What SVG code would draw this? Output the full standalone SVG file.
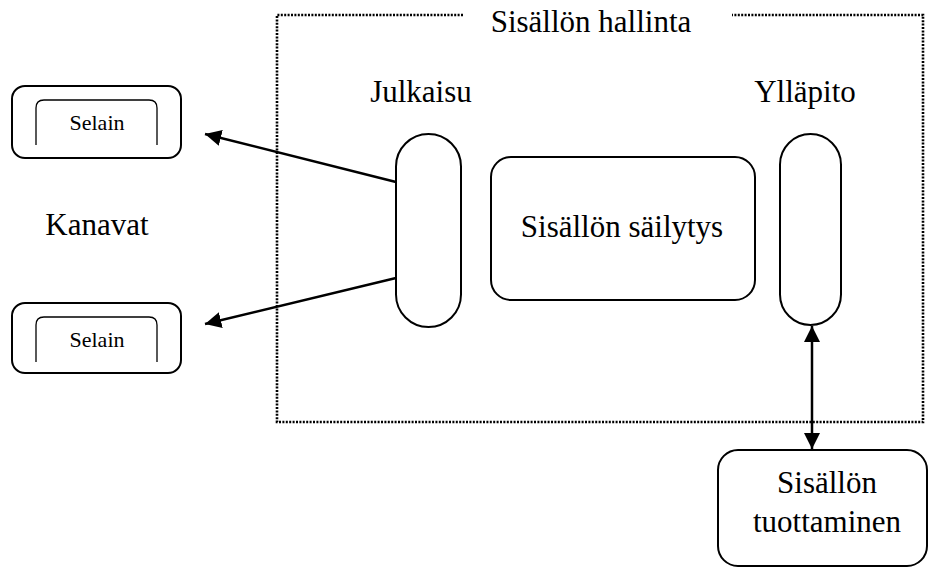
<svg xmlns="http://www.w3.org/2000/svg" width="929" height="567" viewBox="0 0 929 567">
<style>
text{font-family:"Liberation Serif","Times New Roman",serif;fill:#000;text-anchor:middle}
.big{font-size:31px}
.small{font-size:22px}
.shape{fill:#fff;stroke:#000;stroke-width:2}
.thin{fill:none;stroke:#000;stroke-width:1.3}
.dot{fill:none;stroke:#000;stroke-width:2.6;stroke-dasharray:2 1.4}
.conn{fill:none;stroke:#000;stroke-width:2.5}
</style>
<defs>
<marker id="ah" viewBox="0 0 10 10" refX="10" refY="5" markerWidth="6.5" markerHeight="6.5" markerUnits="strokeWidth" orient="auto-start-reverse">
<path d="M0,0 L10,5 L0,10 z" fill="#000"/>
</marker>
</defs>
<g id="frame">
<path class="dot" d="M463,15 H277 V422 H923 V15 H732"/>
<text class="big" x="591" y="32">Sisällön hallinta</text>
</g>
<g id="selain1">
<rect class="shape" x="12" y="86" width="169" height="72" rx="13"/>
<path class="thin" d="M36,145 V108 Q36,100 44,100 H149 Q157,100 157,108 V145"/>
<text class="small" x="97" y="130">Selain</text>
</g>
<g id="selain2">
<rect class="shape" x="12" y="303" width="169" height="70" rx="13"/>
<path class="thin" d="M36,362 V325 Q36,317 44,317 H149 Q157,317 157,325 V362"/>
<text class="small" x="97" y="347">Selain</text>
</g>
<g id="kanavat">
<text class="big" x="97" y="235">Kanavat</text>
</g>
<g id="julkaisu">
<text class="big" x="421" y="102">Julkaisu</text>
<rect class="shape" x="396" y="134" width="65" height="193" rx="32.5"/>
</g>
<g id="sailytys">
<rect class="shape" x="491" y="157" width="264" height="143" rx="20"/>
<text class="big" x="622" y="237">Sisällön säilytys</text>
</g>
<g id="yllapito">
<text class="big" x="805" y="102">Ylläpito</text>
<rect class="shape" x="780" y="134" width="61" height="191" rx="30.5"/>
</g>
<g id="tuottaminen">
<rect class="shape" x="718" y="450" width="209" height="116" rx="20"/>
<text class="big" x="827" y="493">Sisällön</text>
<text class="big" x="827" y="532">tuottaminen</text>
</g>
<g id="connectors">
<line class="conn" x1="396" y1="182" x2="205" y2="134" marker-end="url(#ah)"/>
<line class="conn" x1="396" y1="278" x2="205" y2="324" marker-end="url(#ah)"/>
<line class="conn" x1="812" y1="326" x2="812" y2="449" marker-start="url(#ah)" marker-end="url(#ah)"/>
</g>
</svg>
